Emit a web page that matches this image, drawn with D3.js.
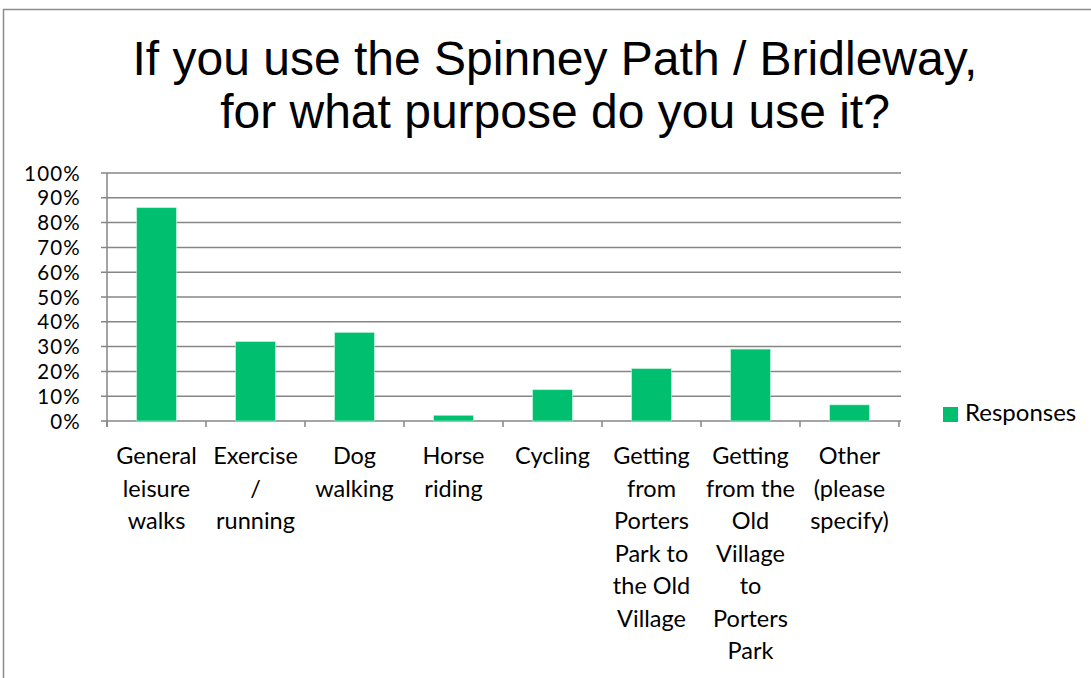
<!DOCTYPE html>
<html>
<head>
<meta charset="utf-8">
<script src="https://cdn.jsdelivr.net/npm/d3@7"></script>
<style>
  html, body { margin: 0; padding: 0; background: #fff; }
  svg { display: block; }
</style>
</head>
<body>
<svg id="chart" width="1091" height="678"></svg>
<script>
const titleLines = ["If you use the Spinney Path / Bridleway,", "for what purpose do you use it?"];
const categories = [
  "General\nleisure\nwalks",
  "Exercise\n/\nrunning",
  "Dog\nwalking",
  "Horse\nriding",
  "Cycling",
  "Getting\nfrom\nPorters\nPark to\nthe Old\nVillage",
  "Getting\nfrom the\nOld\nVillage\nto\nPorters\nPark",
  "Other\n(please\nspecify)"
];
const responses = [0.86, 0.32, 0.357, 0.023, 0.126, 0.211, 0.29, 0.065];
const yTicks = [0, 0.1, 0.2, 0.3, 0.4, 0.5, 0.6, 0.7, 0.8, 0.9, 1.0];
const seriesName = "Responses";

const svg = d3.select("#chart");
const green = "#00BF6F";
const gridColor = "#868686";
const labelFont = "Lato, 'Noto Sans', sans-serif";

// outer chart border
svg.append("rect")
  .attr("x", 3.5).attr("y", 9.5).attr("width", 1200).attr("height", 800)
  .attr("fill", "none").attr("stroke", "#8c8c8c").attr("stroke-width", 1.5);

// title
svg.append("g").selectAll("text").data(titleLines).join("text")
  .attr("x", 555).attr("y", (d, i) => 75 + i * 53)
  .attr("text-anchor", "middle")
  .attr("font-family", "'Liberation Sans', Arial, sans-serif")
  .attr("font-size", 48)
  .attr("fill", "#000")
  .text(d => d);

const x0 = 107, x1 = 899, yTop = 173, yBot = 421;
const x = d3.scaleBand().domain(categories).range([x0, x1]).paddingInner(0.6).paddingOuter(0.3);
const xb = d3.scaleBand().domain(categories).range([x0, x1]);
const y = d3.scaleLinear().domain([0, 1]).range([yBot, yTop]);

// gridlines
svg.append("g").selectAll("line").data(yTicks).join("line")
  .attr("x1", x0 - 6).attr("x2", x1 + 2)
  .attr("y1", d => y(d)).attr("y2", d => y(d))
  .attr("stroke", gridColor).attr("stroke-width", 1.5);

// y axis line
svg.append("line")
  .attr("x1", x0).attr("x2", x0).attr("y1", yTop).attr("y2", yBot + 6)
  .attr("stroke", gridColor).attr("stroke-width", 1.5);

// x ticks at band boundaries
const bounds = categories.map(c => xb(c)).concat([x1]);
svg.append("g").selectAll("line").data(bounds).join("line")
  .attr("x1", d => d).attr("x2", d => d)
  .attr("y1", yBot).attr("y2", yBot + 6)
  .attr("stroke", gridColor).attr("stroke-width", 1.5);

// y tick labels
svg.append("g").selectAll("text").data(yTicks).join("text")
  .attr("x", 81).attr("y", d => y(d) + 7.5)
  .attr("text-anchor", "end")
  .attr("font-family", labelFont).attr("font-size", 20.5)
  .attr("letter-spacing", 1.2)
  .attr("fill", "#000")
  .text(d3.format(".0%"));

// bars
svg.append("g").selectAll("rect").data(responses).join("rect")
  .attr("x", (d, i) => x(categories[i]))
  .attr("width", x.bandwidth())
  .attr("y", d => y(d))
  .attr("height", d => yBot - y(d))
  .attr("fill", green)
  .attr("stroke", "#b8f0d6").attr("stroke-width", 0.6);

// x labels
const xl = svg.append("g").selectAll("text").data(categories).join("text")
  .attr("x", d => xb(d) + xb.bandwidth() / 2)
  .attr("y", 464)
  .attr("text-anchor", "middle")
  .attr("font-family", labelFont).attr("font-size", 23.5)
  .attr("fill", "#000");
xl.selectAll("tspan").data(d => d.split("\n").map(t => ({t, x: xb(d) + xb.bandwidth() / 2}))).join("tspan")
  .attr("x", d => d.x)
  .attr("dy", (d, i) => i === 0 ? 0 : 32.5)
  .text(d => d.t);

// legend
const lg = svg.append("g");
lg.append("rect").attr("x", 943).attr("y", 407).attr("width", 15).attr("height", 15).attr("fill", green);
lg.append("text").attr("x", 965).attr("y", 421)
  .attr("font-family", labelFont).attr("font-size", 24).attr("fill", "#000")
  .text(seriesName);
</script>
</body>
</html>
